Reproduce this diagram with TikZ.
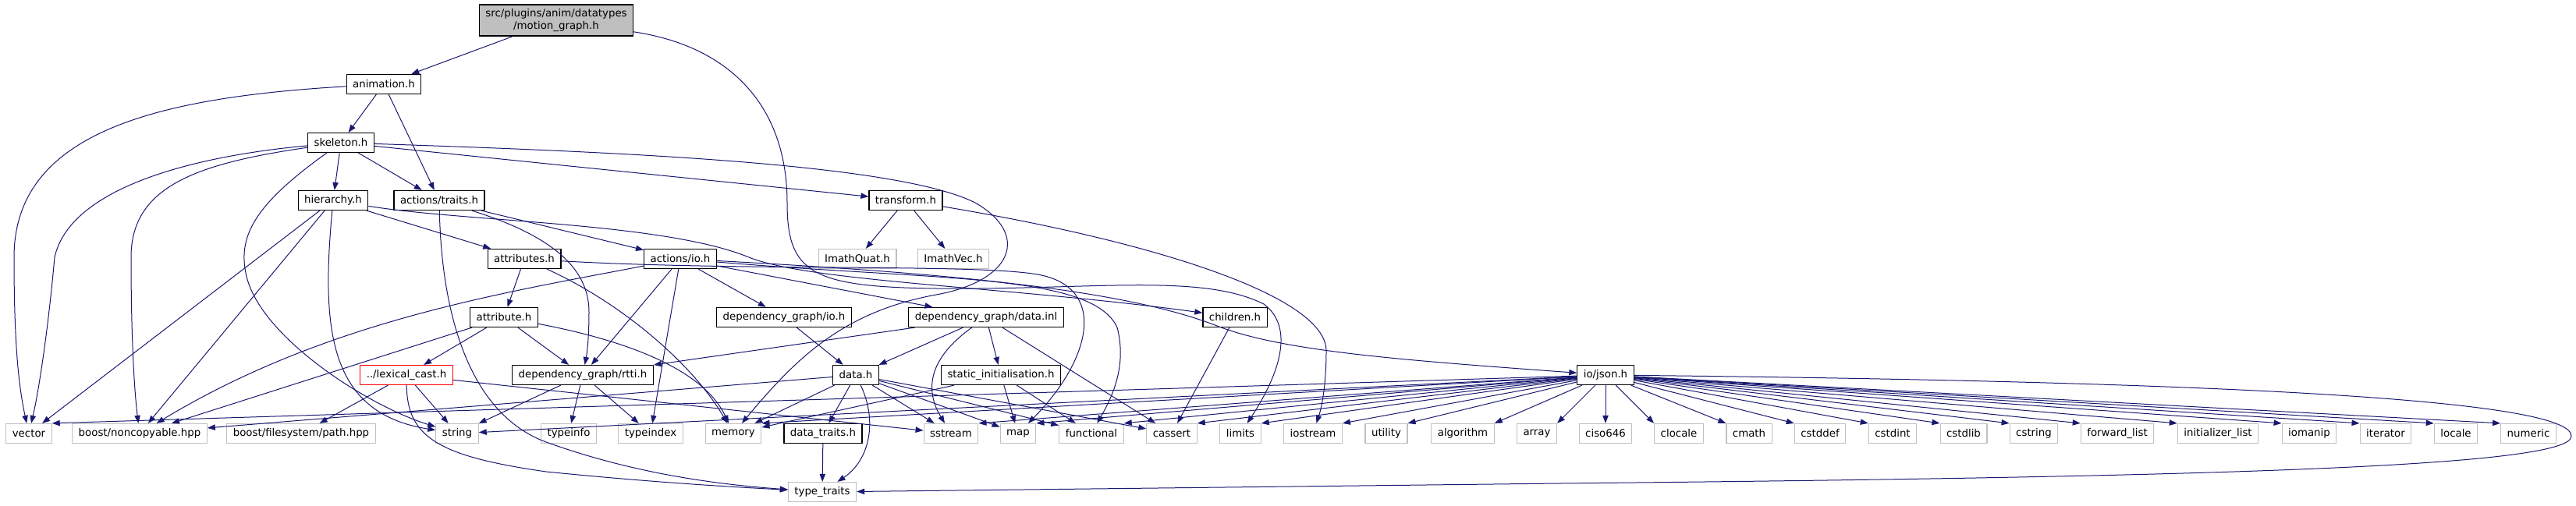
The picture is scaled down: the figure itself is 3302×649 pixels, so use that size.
\documentclass[tikz,border=0pt]{standalone}
\usepackage{fontspec}
\setmainfont{DejaVu Sans}
\usepackage{xcolor}
\usepackage{tikz}
\usetikzlibrary{arrows.meta}

\definecolor{edgblue}{HTML}{191970}
\definecolor{sysgray}{HTML}{BFBFBF}

\begin{document}
\begin{tikzpicture}[
  x=0.75pt, y=-0.75pt,           % <-- 1 unidad = 1 px del grafo
  file/.style={draw=black, line width=0.9pt, fill=white, inner xsep=6pt, inner ysep=0pt, minimum height=18.75pt},
  sysfile/.style={file, draw=sysgray},
  mainfile/.style={file, fill=sysgray, align=center, minimum height=30pt, inner ysep=2pt},
  truncfile/.style={file, draw=red},
  edg/.style={-{Triangle[length=7.5pt,width=5.5pt]}, draw=edgblue, line width=0.75pt},
  every node/.style={font=\fontsize{10}{12}\selectfont}
]
\useasboundingbox (0,0) rectangle (3302,649);

\node[mainfile] (mg) at (713,26) {src/plugins/anim/datatypes\\/motion\_graph.h};
\node[file] (anim) at (492,108) {animation.h};
\node[file] (skel) at (437,183) {skeleton.h};
\node[file] (hier) at (427,257) {hierarchy.h};
\node[file] (trts) at (563,257) {actions/traits.h};
\node[file] (trf) at (1161,257) {transform.h};

\node[file] (attrs) at (672,332) {attributes.h};
\node[file] (aio) at (872,332) {actions/io.h};
\node[sysfile] (iquat) at (1099,332) {ImathQuat.h};
\node[sysfile] (ivec) at (1222,332) {ImathVec.h};

\node[file] (attr) at (646,407) {attribute.h};
\node[file] (dgio) at (1005,407) {dependency\_graph/io.h};
\node[file] (dginl) at (1264,407) {dependency\_graph/data.inl};
\node[file] (chld) at (1583,407) {children.h};

\node[truncfile] (lcast) at (521,481) {../lexical\_cast.h};
\node[file] (rtti) at (747,481) {dependency\_graph/rtti.h};
\node[file] (data) at (1097,481) {data.h};
\node[file] (sinit) at (1283,481) {static\_initialisation.h};
\node[file] (json) at (2058,481) {io/json.h};

\node[sysfile] (vec) at (37,556) {vector};
\node[sysfile] (noncp) at (179,556) {boost/noncopyable.hpp};
\node[sysfile] (fspath) at (386,556) {boost/filesystem/path.hpp};
\node[sysfile] (str) at (586,556) {string};
\node[sysfile] (tinfo) at (729,556) {typeinfo};
\node[sysfile] (tidx) at (834,556) {typeindex};
\node[sysfile] (mem) at (940,556) {memory};
\node[file] (dtr) at (1055,556) {data\_traits.h};
\node[sysfile] (sstr) at (1219,556) {sstream};
\node[sysfile] (map) at (1305,556) {map};
\node[sysfile] (func) at (1399,556) {functional};
\node[sysfile] (cass) at (1502,556) {cassert};
\node[sysfile] (lim) at (1590,556) {limits};
\node[sysfile] (iost) at (1683,556) {iostream};
\node[sysfile] (util) at (1777,556) {utility};
\node[sysfile] (algo) at (1875,556) {algorithm};
\node[sysfile] (arr) at (1970,556) {array};
\node[sysfile] (ciso) at (2058,556) {ciso646};
\node[sysfile] (cloc) at (2152,556) {clocale};
\node[sysfile] (cmath) at (2242,556) {cmath};
\node[sysfile] (cstddef) at (2333,556) {cstddef};
\node[sysfile] (cstdint) at (2426,556) {cstdint};
\node[sysfile] (cstdlib) at (2517,556) {cstdlib};
\node[sysfile] (cstring) at (2607,556) {cstring};
\node[sysfile] (fwdl) at (2714,556) {forward\_list};
\node[sysfile] (initl) at (2843,556) {initializer\_list};
\node[sysfile] (ioman) at (2960,556) {iomanip};
\node[sysfile] (iter) at (3058,556) {iterator};
\node[sysfile] (loc) at (3148,556) {locale};
\node[sysfile] (num) at (3241,556) {numeric};

\node[sysfile] (ttr) at (1054,631) {type\_traits};

% motion_graph.h / animation.h / skeleton.h
\draw[edg] (mg) -- (anim);
\draw[edg] (mg) .. controls (940,60) and (1009,140) .. (1009,260) .. controls (1009,350) and (1040,368) .. (1200,370) .. controls (1400,372) and (1540,350) .. (1620,390) .. controls (1660,420) and (1640,480) .. (lim);
\draw[edg] (anim) -- (skel);
\draw[edg] (anim) -- (trts);
\draw[edg] (anim) .. controls (200,125) and (18,170) .. (18,330) .. controls (18,450) and (25,500) .. (vec);
\draw[edg] (skel) -- (hier);
\draw[edg] (skel) -- (trts);
\draw[edg] (skel) -- (trf);
\draw[edg] (skel) .. controls (250,200) and (90,240) .. (70,330) .. controls (62,420) and (50,500) .. (vec);
\draw[edg] (skel) .. controls (250,210) and (168,240) .. (168,330) .. controls (168,430) and (172,500) .. (noncp);
\draw[edg] (skel) .. controls (330,260) and (305,300) .. (315,350) .. controls (330,430) and (470,520) .. (str);
\draw[edg] (skel) .. controls (800,195) and (1150,210) .. (1250,260) .. controls (1320,300) and (1300,360) .. (1200,378) .. controls (1080,400) and (1020,460) .. (mem);

% hierarchy.h / actions/traits.h / transform.h
\draw[edg] (hier) -- (vec);
\draw[edg] (hier) -- (noncp);
\draw[edg] (hier) .. controls (412,420) and (420,530) .. (str);
\draw[edg] (hier) -- (attrs);
\draw[edg] (hier) .. controls (600,285) and (850,285) .. (960,330) .. controls (1040,362) and (1300,368) .. (chld);
\draw[edg] (trts) -- (aio);
\draw[edg] (trts) .. controls (700,300) and (755,340) .. (755,400) .. controls (755,430) and (753,450) .. (rtti);
\draw[edg] (trts) .. controls (566,400) and (600,530) .. (700,567) .. controls (800,603) and (900,620) .. (ttr);
\draw[edg] (trf) -- (iquat);
\draw[edg] (trf) -- (ivec);
\draw[edg] (trf) .. controls (1480,310) and (1700,380) .. (1700,450) .. controls (1700,490) and (1695,520) .. (iost);

% attributes.h / actions/io.h
\draw[edg] (attrs) -- (attr);
\draw[edg] (attrs) .. controls (800,390) and (890,470) .. (mem);
\draw[edg] (attrs) .. controls (950,348) and (1250,338) .. (1330,352) .. controls (1420,368) and (1400,460) .. (map);
\draw[edg] (aio) .. controls (650,375) and (420,410) .. (noncp);
\draw[edg] (aio) -- (rtti);
\draw[edg] (aio) -- (tidx);
\draw[edg] (aio) -- (dgio);
\draw[edg] (aio) -- (dginl);
\draw[edg] (aio) .. controls (1200,360) and (1400,350) .. (1432,420) .. controls (1445,470) and (1425,510) .. (func);
\draw[edg] (aio) .. controls (1250,352) and (1450,375) .. (1560,418) .. controls (1645,451) and (1800,462) .. (json);

% attribute.h / dependency_graph / children.h
\draw[edg] (attr) -- (lcast);
\draw[edg] (attr) -- (rtti);
\draw[edg] (attr) -- (noncp);
\draw[edg] (attr) .. controls (820,440) and (905,480) .. (mem);
\draw[edg] (dgio) -- (data);
\draw[edg] (dginl) -- (data);
\draw[edg] (dginl) -- (sinit);
\draw[edg] (dginl) -- (rtti);
\draw[edg] (dginl) -- (cass);
\draw[edg] (dginl) .. controls (1190,460) and (1185,500) .. (sstr);
\draw[edg] (chld) -- (cass);

% ../lexical_cast.h / rtti.h / data.h / static_initialisation.h
\draw[edg] (lcast) -- (fspath);
\draw[edg] (lcast) -- (str);
\draw[edg] (lcast) -- (sstr);
\draw[edg] (lcast) .. controls (522,560) and (560,585) .. (700,605) .. controls (850,620) and (950,625) .. (ttr);
\draw[edg] (rtti) -- (str);
\draw[edg] (rtti) -- (tinfo);
\draw[edg] (rtti) -- (tidx);
\draw[edg] (data) -- (dtr);
\draw[edg] (data) -- (mem);
\draw[edg] (data) -- (noncp);
\draw[edg] (data) -- (sstr);
\draw[edg] (data) -- (map);
\draw[edg] (data) -- (func);
\draw[edg] (data) -- (cass);
\draw[edg] (data) .. controls (1125,540) and (1115,590) .. (ttr);
\draw[edg] (sinit) -- (map);
\draw[edg] (sinit) -- (func);
\draw[edg] (sinit) -- (mem);
\draw[edg] (dtr) -- (ttr);

% io/json.h
\draw[edg] (json) -- (vec.north east);
\draw[edg] (json) -- (str);
\draw[edg] (json) -- (mem.north east);
\draw[edg] (json) -- (sstr.north east);
\draw[edg] (json) -- (map.north east);
\draw[edg] (json) -- (func.north east);
\draw[edg] (json) -- (cass.north east);
\draw[edg] (json) -- (lim.north east);
\draw[edg] (json) -- (iost.north east);
\draw[edg] (json) -- (util.north east);
\draw[edg] (json) -- (algo.north east);
\draw[edg] (json) -- (arr.north east);
\draw[edg] (json) -- (ciso);
\draw[edg] (json) -- (cloc.north west);
\draw[edg] (json) -- (cmath.north west);
\draw[edg] (json) -- (cstddef.north west);
\draw[edg] (json) -- (cstdint.north west);
\draw[edg] (json) -- (cstdlib.north west);
\draw[edg] (json) -- (cstring.north west);
\draw[edg] (json) -- (fwdl.north west);
\draw[edg] (json) -- (initl.north west);
\draw[edg] (json) -- (ioman.north west);
\draw[edg] (json) -- (iter.north west);
\draw[edg] (json) -- (loc.north west);
\draw[edg] (json) -- (num.north west);
\draw[edg] (json) .. controls (2900,490) and (3300,515) .. (3296,560) .. controls (3292,600) and (2800,612) .. (2000,620) -- (ttr);

\end{tikzpicture}
\end{document}
